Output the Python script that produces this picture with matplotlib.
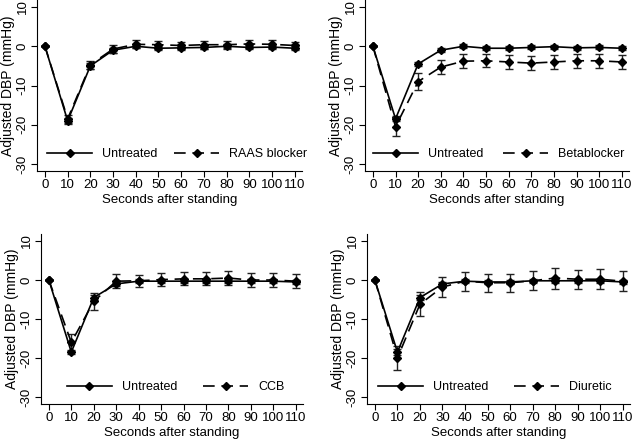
import matplotlib
matplotlib.use("Agg")
import matplotlib.pyplot as plt
import numpy as np

plt.rcParams['font.family'] = ['Liberation Sans', 'DejaVu Sans']

seconds = [0, 10, 20, 30, 40, 50, 60, 70, 80, 90, 100, 110]

# Panel 1: RAAS blocker
raas_untreated = [0, -19.0, -5.0, -1.0, 0.0, -0.5, -0.4, -0.3, 0.0, -0.3, -0.2, -0.5]
raas_untreated_err = [0, 0.8, 0.8, 0.6, 0.5, 0.5, 0.5, 0.5, 0.5, 0.5, 0.5, 0.5]
raas_treated = [0, -18.5, -4.7, -0.7, 0.5, 0.4, 0.2, 0.4, 0.4, 0.6, 0.5, 0.2]
raas_treated_err = [0, 1.0, 1.0, 1.0, 1.0, 1.0, 1.0, 1.0, 1.0, 1.1, 1.0, 1.0]

# Panel 2: Betablocker
beta_untreated = [0, -18.5, -4.5, -1.0, 0.0, -0.5, -0.5, -0.3, -0.1, -0.4, -0.3, -0.5]
beta_untreated_err = [0, 0.6, 0.6, 0.5, 0.5, 0.5, 0.5, 0.5, 0.5, 0.5, 0.5, 0.5]
beta_treated = [0, -20.5, -9.0, -5.3, -3.8, -3.7, -4.0, -4.3, -4.0, -3.7, -3.7, -4.0]
beta_treated_err = [0, 2.3, 2.1, 1.8, 1.8, 1.7, 1.8, 1.8, 1.8, 1.8, 1.8, 1.8]

# Panel 3: CCB
ccb_untreated = [0, -18.5, -4.5, -1.0, -0.3, -0.3, -0.3, -0.3, -0.3, -0.3, -0.3, -0.5]
ccb_untreated_err = [0, 0.6, 0.6, 0.5, 0.5, 0.5, 0.5, 0.5, 0.5, 0.5, 0.5, 0.5]
ccb_treated = [0, -16.0, -5.5, -0.3, -0.2, 0.1, 0.3, 0.3, 0.5, 0.0, 0.0, -0.3]
ccb_treated_err = [0, 2.2, 2.2, 1.8, 1.6, 1.6, 1.7, 1.7, 1.8, 1.7, 1.7, 1.8]

# Panel 4: Diuretic
diu_untreated = [0, -18.5, -4.5, -1.0, -0.3, -0.5, -0.5, -0.2, -0.2, -0.2, -0.2, -0.5]
diu_untreated_err = [0, 0.7, 0.7, 0.6, 0.5, 0.5, 0.5, 0.5, 0.5, 0.5, 0.5, 0.5]
diu_treated = [0, -20.0, -6.2, -1.8, -0.3, -0.7, -0.7, -0.2, 0.5, 0.2, 0.2, -0.3]
diu_treated_err = [0, 3.0, 3.0, 2.6, 2.4, 2.3, 2.3, 2.4, 2.7, 2.4, 2.6, 2.6]

panels = [
    ("RAAS blocker", raas_untreated, raas_untreated_err, raas_treated, raas_treated_err),
    ("Betablocker", beta_untreated, beta_untreated_err, beta_treated, beta_treated_err),
    ("CCB", ccb_untreated, ccb_untreated_err, ccb_treated, ccb_treated_err),
    ("Diuretic", diu_untreated, diu_untreated_err, diu_treated, diu_treated_err),
]

xticks = [0, 10, 20, 30, 40, 50, 60, 70, 80, 90, 100, 110]
yticks = [-30, -20, -10, 0, 10]

fig = plt.figure(figsize=(6.33, 4.42), dpi=100)
W, H = 633, 442
# (left, right, bottom, top) in pixels, legend start x (px), column gap (px)
positions = [
    (37, 302, 171, 0, 47, 17),
    (365, 629, 171, 0, 373, 20),
    (41, 303, 404, 234, 67, 26),
    (367, 630, 404, 234, 378, 26),
]
FS = 9
em = FS * 100 / 72.0

for (name, u, ue, t, te), (l, r, b, tp, lx, gap) in zip(panels, positions):
    ax = fig.add_axes([l / W, 1 - b / H, (r - l) / W, (b - tp) / H])
    ax.errorbar(seconds, t, yerr=te, fmt='none', ecolor='#222222', elinewidth=1.0,
                capsize=3, capthick=1.0, zorder=2)
    ax.errorbar(seconds, u, yerr=ue, fmt='none', ecolor='#222222', elinewidth=1.0,
                capsize=3, capthick=1.0, zorder=2)
    h1, = ax.plot(seconds, u, color='black', lw=1.2, marker='D', markersize=4.5,
                  label='Untreated', zorder=3)
    h2, = ax.plot(seconds, t, color='black', lw=1.2, marker='D', markersize=4.5,
                  dashes=(7, 4), label=name, zorder=3)
    ax.set_xlim(-3.5, 113.2)
    ax.set_ylim(-31.8, 11.8)
    ax.set_xticks(xticks)
    ax.set_yticks(yticks)
    ax.set_yticklabels([str(v) for v in yticks], rotation=90, va='center')
    ax.tick_params(labelsize=9.5, length=4, width=0.8, direction='out', pad=2)
    ax.spines['top'].set_visible(False)
    ax.spines['right'].set_visible(False)
    ax.spines['left'].set_linewidth(0.8)
    ax.spines['bottom'].set_linewidth(0.8)
    ax.set_xlabel('Seconds after standing', fontsize=9.5, labelpad=2)
    ax.set_ylabel('Adjusted DBP (mmHg)', fontsize=10, labelpad=1)
    ax.legend(handles=[h1, h2], loc='center left',
              bbox_to_anchor=((lx - l) / (r - l), 17 / (b - tp)),
              ncol=2, frameon=False, fontsize=FS, handlelength=3.6,
              columnspacing=gap / em, handletextpad=0.8,
              borderpad=0, borderaxespad=0)

fig.savefig('out.png', dpi=100)
